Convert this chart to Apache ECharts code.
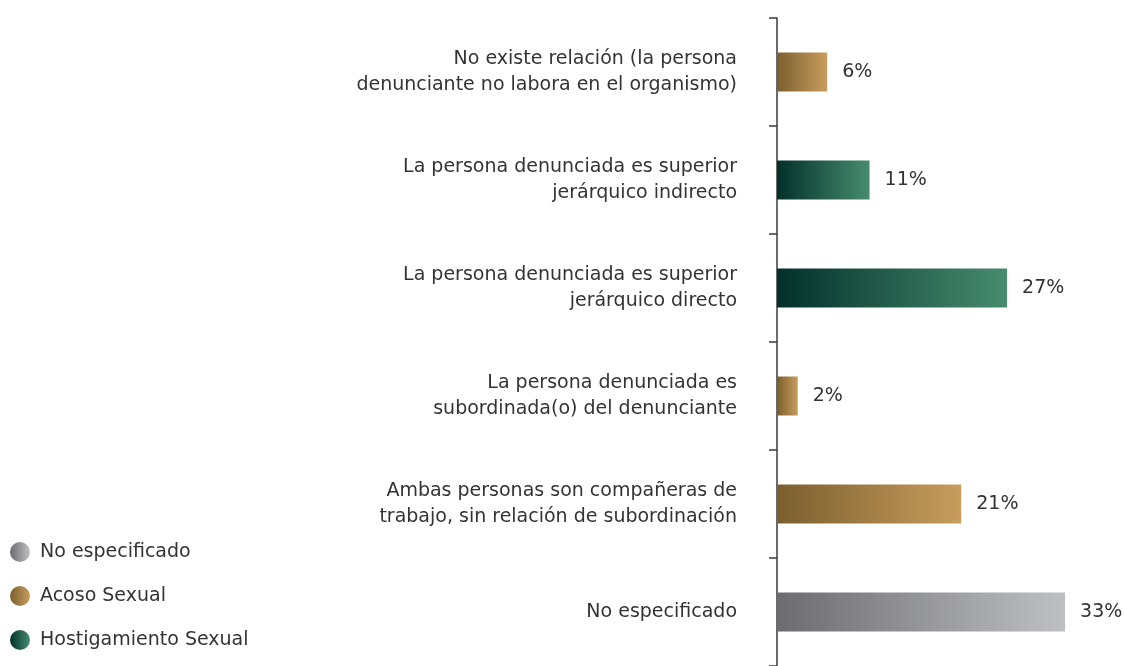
<!DOCTYPE html>
<html>
<head>
<meta charset="utf-8">
<script src="https://cdn.jsdelivr.net/npm/echarts@6/dist/echarts.min.js"></script>
<style>
  html, body {margin: 0; padding: 0; background: #fff;}
  #chart {width: 1124px; height: 666px;}
</style>
</head>
<body>
<div id="chart"></div>
<script>
const categories = [
  'No existe relación (la persona\ndenunciante no labora en el organismo)',
  'La persona denunciada es superior\njerárquico indirecto',
  'La persona denunciada es superior\njerárquico directo',
  'La persona denunciada es\nsubordinada(o) del denunciante',
  'Ambas personas son compañeras de\ntrabajo, sin relación de subordinación',
  'No especificado'
];
// percentages as drawn (labels are rounded)
const values = [5.8, 10.7, 26.6, 2.4, 21.3, 33.3];
const groups = ['Acoso Sexual', 'Hostigamiento Sexual', 'Hostigamiento Sexual', 'Acoso Sexual', 'Acoso Sexual', 'No especificado'];
const legendNames = ['No especificado', 'Acoso Sexual', 'Hostigamiento Sexual'];

const grad = (a, b) => new echarts.graphic.LinearGradient(0, 0, 1, 0, [
  {offset: 0, color: a}, {offset: 1, color: b}
]);
const colors = {
  'No especificado': grad('#6b6b70', '#bfc0c4'),
  'Acoso Sexual': grad('#7a5f2e', '#c89d5d'),
  'Hostigamiento Sexual': grad('#03302a', '#478c6f')
};

const chart = echarts.init(document.getElementById('chart'));
chart.setOption({
  animation: false,
  textStyle: {fontFamily: 'DejaVu Sans'},
  grid: {left: 777, right: 1, top: 18, height: 650},
  legend: {
    orient: 'vertical',
    left: 5,
    top: 537,
    icon: 'circle',
    itemWidth: 20,
    itemHeight: 20,
    itemGap: 24,
    data: legendNames,
    textStyle: {fontSize: 19, color: '#333', fontFamily: 'DejaVu Sans', padding: [0, 0, 0, 5]}
  },
  xAxis: {
    type: 'value',
    min: 0,
    max: 40,
    show: false
  },
  yAxis: {
    type: 'category',
    inverse: true,
    data: categories,
    axisLine: {show: true, lineStyle: {color: '#3a3a3a', width: 1.5}},
    axisTick: {show: true, length: 8, alignWithLabel: false, lineStyle: {color: '#3a3a3a', width: 1.5}},
    axisLabel: {
      margin: 40,
      fontSize: 19,
      lineHeight: 26,
      color: '#333',
      align: 'right'
    }
  },
  series: legendNames.map(name => ({
    name: name,
    type: 'bar',
    stack: 'all',
    barWidth: 39,
    itemStyle: {color: colors[name]},
    label: {
      show: true,
      position: 'right',
      distance: 15,
      fontSize: 19,
      color: '#333',
      formatter: p => Math.round(p.value) + '%'
    },
    data: values.map((v, i) => groups[i] === name ? v : '-')
  }))
});
</script>
</body>
</html>
